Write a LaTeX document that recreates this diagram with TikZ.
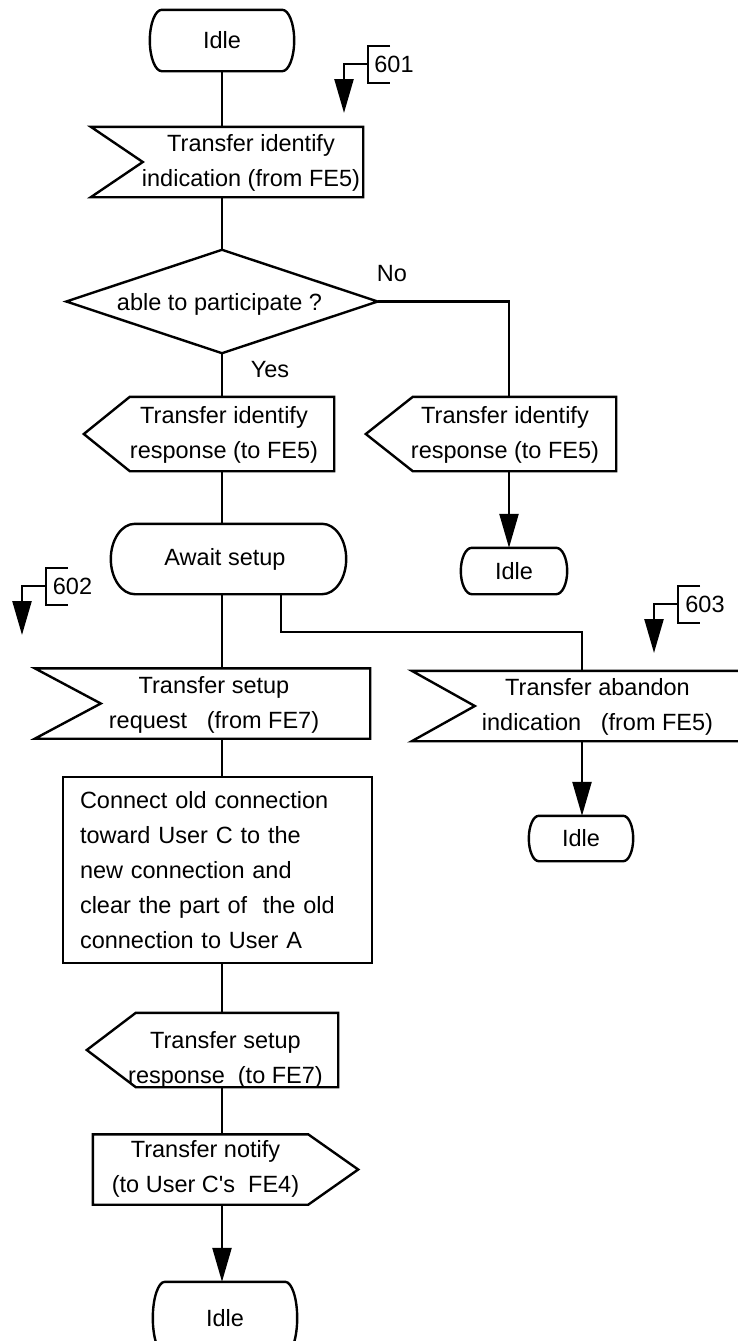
\documentclass[tikz,border=0pt]{standalone}
\usepackage{fontspec}
\setmainfont{Liberation Sans}
\usetikzlibrary{calc,arrows.meta}

% text inside a box, shifted by dx (right) and dy (down), lines centred
\newcommand{\sdltxt}[3]{\hspace*{#1pt}\hspace*{#1pt}\raisebox{-#2pt}[\height][\depth]{\begin{tabular}{@{}c@{}}#3\end{tabular}}}

% SDL state symbol
\newcommand{\stateshape}[2]{%
 \draw[sdl] ($(#1.north west)+(#2,0)$) -- ($(#1.north east)+(-#2,0)$)
  .. controls ($(#1.north east)+(-0.45*#2,0)$) and ($(#1.east)!0.55!(#1.north east)$) .. (#1.east)
  .. controls ($(#1.east)!0.55!(#1.south east)$) and ($(#1.south east)+(-0.45*#2,0)$) .. ($(#1.south east)+(-#2,0)$)
  -- ($(#1.south west)+(#2,0)$)
  .. controls ($(#1.south west)+(0.45*#2,0)$) and ($(#1.west)!0.55!(#1.south west)$) .. (#1.west)
  .. controls ($(#1.west)!0.55!(#1.north west)$) and ($(#1.north west)+(0.45*#2,0)$) .. ($(#1.north west)+(#2,0)$);}
% input signal (notch on the left)
\newcommand{\inshape}[2]{\draw[sdl] (#1.north west) -- (#1.north east) -- (#1.south east) -- (#1.south west) -- ($(#1.west)+(#2,0)$) -- cycle;}
\newcommand{\inshapeopen}[2]{\draw[sdl] (#1.north east) -- (#1.north west) -- ($(#1.west)+(#2,0)$) -- (#1.south west) -- (#1.south east);}
% output signal pointing left / right
\newcommand{\outleft}[2]{\draw[sdl] ($(#1.north west)+(#2,0)$) -- (#1.north east) -- (#1.south east) -- ($(#1.south west)+(#2,0)$) -- (#1.west) -- cycle;}
\newcommand{\outright}[2]{\draw[sdl] (#1.north west) -- ($(#1.north east)+(-#2,0)$) -- (#1.east) -- ($(#1.south east)+(-#2,0)$) -- (#1.south west) -- cycle;}
% page reference flag with arrow
\newcommand{\flagref}[1]{%
 \draw[sdl] ($(#1)+(22,-18)$) -- ($(#1)+(0,-18)$) -- ($(#1)+(0,19)$) -- ($(#1)+(22,19)$);
 \draw[arr] (#1) -- ++(-24,0) -- ++(0,49);}

\tikzset{
  sdl/.style={line width=2.4pt},
  arr/.style={sdl,-{Triangle[length=34pt,width=19pt]}},
  sdlbox/.style 2 args={minimum width=#1pt, minimum height=#2pt, inner sep=0pt},
  every node/.style={font=\fontsize{23.5pt}{35pt}\selectfont}
}

\begin{document}
\begin{tikzpicture}[x=1pt,y=-1pt]
\useasboundingbox (0,0) rectangle (738,1341);

% nodes
\node[sdlbox={144}{61}] (idle1) at (222,40.5) {Idle};
\node[sdlbox={272}{70}] (sig1) at (227,162) {\sdltxt{24}{0}{Transfer identify\\indication (from FE5)}};
\node[sdlbox={311}{103}] (dec) at (222,301.5) {\sdltxt{-2.5}{2}{able to participate ?}};
\node (no) at (392,274) {No};
\node (yes) at (270,370) {Yes};
\node[sdlbox={250}{74}] (out1) at (209,434) {\sdltxt{15}{0}{Transfer identify\\response (to FE5)}};
\node[sdlbox={250}{74}] (out2) at (491,434) {\sdltxt{14}{0}{Transfer identify\\response (to FE5)}};
\node[sdlbox={106}{46}] (idle2) at (514,571) {Idle};
\node[sdlbox={235}{70}] (await) at (228.5,559) {\hspace*{-7pt}Await setup};
\node[sdlbox={335}{65}] (sig2) at (202.5,703.5) {\sdltxt{11.5}{0}{Transfer setup\\request~~~(from FE7)}};
\node[sdlbox={326}{64}] (sig3) at (575,706) {\sdltxt{22.5}{0}{Transfer abandon\\indication~~~(from FE5)}};
\node[sdlbox={104}{45}] (idle3) at (581,838.5) {Idle};
\node[sdlbox={309}{186}, draw, sdl, text width=275pt, align=left] (task) at (217.5,870)
  {Connect old connection\\toward User C to the\\new connection and\\clear the part of~~the old\\connection to User A};
\node[sdlbox={251}{74}] (out3) at (212.5,1050) {\sdltxt{13}{9}{Transfer setup\\response~~(to FE7)}};
\node[sdlbox={265}{67}] (out4) at (225.5,1169.5) {\sdltxt{-20}{-2}{Transfer notify\\(to User C\textquotesingle s~~FE4)}};
\node[sdlbox={144}{72}] (idle4) at (225,1318) {Idle};

\node (n601) at (394,64) {601};
\node (n602) at (72.5,586) {602};
\node (n603) at (705,604) {603};
\coordinate (f601) at (368,64);
\coordinate (f602) at (46,586);
\coordinate (f603) at (678,604);

% outlines
\stateshape{idle1}{12}
\inshape{sig1}{52}
\draw[sdl] (dec.north) -- (dec.east) -- (dec.south) -- (dec.west) -- cycle;
\outleft{out1}{46}
\outleft{out2}{47}
\stateshape{idle2}{11}
\stateshape{await}{24}
\inshape{sig2}{66}
\inshapeopen{sig3}{63}
\stateshape{idle3}{10}
\outleft{out3}{49}
\outright{out4}{50}
\stateshape{idle4}{12}

\flagref{f601}
\flagref{f602}
\flagref{f603}

% connectors
\coordinate (trunk) at (222,0);
\coordinate (rtrunk) at (509,0);
\coordinate (bend) at (281,632);
\coordinate (atrunk) at (582,0);

\draw[sdl] (trunk |- idle1.south) -- (trunk |- sig1.north);
\draw[sdl] (trunk |- sig1.south) -- (dec.north);
\draw[sdl] (dec.east) -| (rtrunk |- out2.north);
\draw[sdl] (dec.south) -- (trunk |- out1.north);
\draw[arr] (rtrunk |- out2.south) -- (rtrunk |- idle2.north);
\draw[sdl] (trunk |- out1.south) -- (trunk |- await.north);
\draw[sdl] (trunk |- await.south) -- (trunk |- sig2.north);
\draw[sdl] (bend |- await.south) -- (bend) -| (atrunk |- sig3.north);
\draw[arr] (atrunk |- sig3.south) -- (atrunk |- idle3.north);
\draw[sdl] (trunk |- sig2.south) -- (trunk |- task.north);
\draw[sdl] (trunk |- task.south) -- (trunk |- out3.north);
\draw[sdl] (trunk |- out3.south) -- (trunk |- out4.north);
\draw[arr] (trunk |- out4.south) -- (trunk |- idle4.north);
\end{tikzpicture}
\end{document}
